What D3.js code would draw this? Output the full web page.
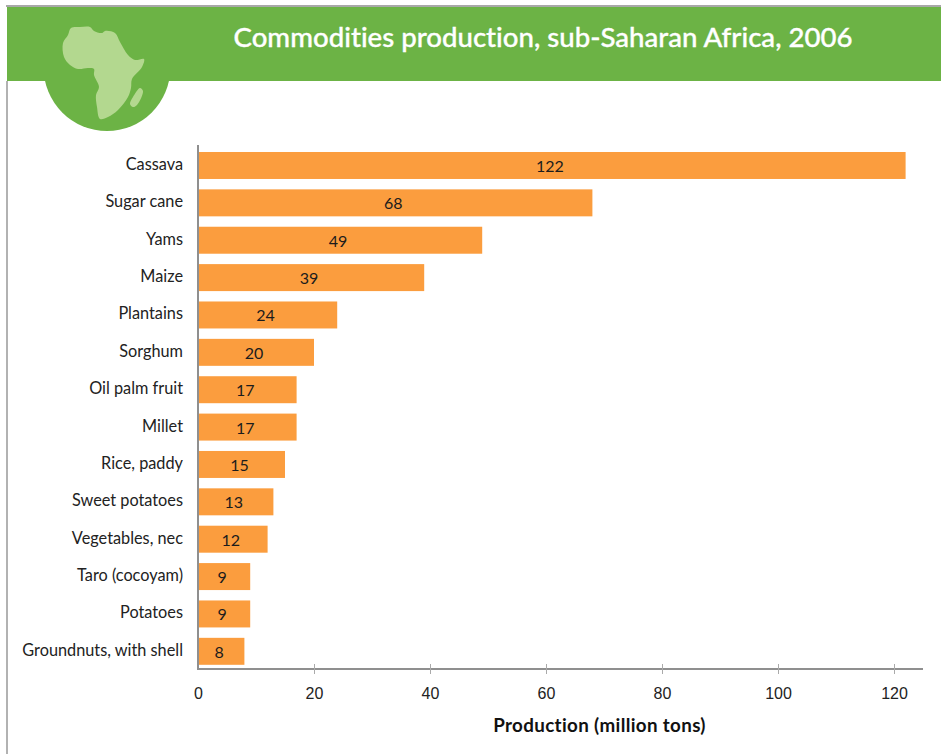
<!DOCTYPE html>
<html>
<head>
<meta charset="utf-8">
<script src="https://cdn.jsdelivr.net/npm/d3@7"></script>
<style>
  html, body { margin: 0; padding: 0; background: #fff; }
  svg { display: block; }
  text { font-variant-ligatures: none; }
</style>
</head>
<body>
<script>
const commodities = ["Cassava","Sugar cane","Yams","Maize","Plantains","Sorghum","Oil palm fruit","Millet","Rice, paddy","Sweet potatoes","Vegetables, nec","Taro (cocoyam)","Potatoes","Groundnuts, with shell"];
const production = [122,68,49,39,24,20,17,17,15,13,12,9,9,8];
const xTicks = [0,20,40,60,80,100,120];
const chartTitle = "Commodities production, sub-Saharan Africa, 2006";
const axisTitle = "Production (million tons)";

const width = 941, height = 754;
const green = "#6cb345", leaf = "#b3d88f", orange = "#fb9d3e", rule = "#8f8f8f";
const labelFont = "Lato, 'Open Sans', sans-serif";

const svg = d3.select("body").append("svg").attr("width", width).attr("height", height);

// Round badge, then the banner and page frame over it
svg.append("circle").attr("cx", 107).attr("cy", 67.6).attr("r", 63.4).attr("fill", green);
svg.append("rect").attr("x", 0).attr("y", 0).attr("width", width).attr("height", 5).attr("fill", "#fff");
svg.append("rect").attr("x", 7).attr("y", 7).attr("width", width - 7).attr("height", 74).attr("fill", green);
svg.append("rect").attr("x", 6).attr("y", 5).attr("width", width - 6).attr("height", 2).attr("fill", "#a8a8a8");
svg.append("rect").attr("x", 6).attr("y", 81).attr("width", 2).attr("height", height - 81).attr("fill", "#b2b2b2");

// Continent outline for the badge
const smooth = d3.line().curve(d3.curveCatmullRomClosed.alpha(0.5));
const mainland = [[71,28],[80,27],[90,27],[94,31],[102,33],[105,31],[115,33],[120,42],[128,55],[135,60],[144,59],[142,67],[132,79],[131,88],[128,97],[118,110],[108,117],[100,119],[97,107],[96,95],[99,87],[94,75],[94,69],[88,68],[78,69],[70,65],[64,57],[63,43],[68,35]];
const island = [[140,88],[143,91],[137,105],[133,107],[130,104],[133,97]];
svg.append("path").attr("d", smooth(mainland)).attr("fill", leaf);
svg.append("path").attr("d", smooth(island)).attr("fill", leaf);

svg.append("text").attr("x", 543).attr("y", 46.5).attr("text-anchor", "middle")
  .attr("font-family", labelFont).attr("font-weight", 500).attr("font-size", 27.6)
  .attr("fill", "#fff").attr("stroke", "#fff").attr("stroke-width", 0.35)
  .text(chartTitle);

// Scales
const x = d3.scaleLinear().domain([0, 125]).range([198, 923]);
const y = d3.scaleBand().domain(commodities).range([146.8, 670]).paddingInner(0.278).paddingOuter(0.139);

// Bars and their value labels
svg.append("g").selectAll("rect").data(commodities).join("rect")
  .attr("x", x(0)).attr("y", d => y(d))
  .attr("width", (d, i) => x(production[i]) - x(0)).attr("height", y.bandwidth())
  .attr("fill", orange);

svg.append("g").selectAll("text").data(commodities).join("text")
  .attr("x", (d, i) => (x(0) + x(production[i])) / 2 - 2)
  .attr("y", d => y(d) + y.bandwidth() / 2 + 6.5)
  .attr("text-anchor", "middle").attr("font-family", labelFont).attr("font-size", 16).attr("fill", "#1c1c1c")
  .text((d, i) => production[i]);

// Category labels
svg.append("g").selectAll("text").data(commodities).join("text")
  .attr("x", 183).attr("y", d => y(d) + y.bandwidth() / 2 + 4.5)
  .attr("text-anchor", "end").attr("font-family", labelFont).attr("font-size", 16.3).attr("fill", "#222")
  .text(d => d);

// Axes
svg.append("line").attr("x1", 198).attr("x2", 198).attr("y1", 145).attr("y2", 669.5).attr("stroke", rule).attr("stroke-width", 2);

const xAxis = svg.append("g").attr("transform", "translate(0,669)")
  .call(d3.axisBottom(x).tickValues(xTicks).tickSize(5).tickPadding(14));
xAxis.select(".domain").attr("d", "M197,0H923").attr("stroke", rule).attr("stroke-width", 2);
xAxis.selectAll(".tick line").attr("y1", -5).attr("y2", 5).attr("stroke", "#aaa");
xAxis.selectAll(".tick").filter(d => d === 0).select("line").remove();
xAxis.selectAll(".tick text").attr("font-family", "'Liberation Sans', Arial, sans-serif").attr("font-size", 16).attr("fill", "#222");

svg.append("text").attr("x", 599.5).attr("y", 732).attr("text-anchor", "middle")
  .attr("font-family", labelFont).attr("font-weight", 700).attr("font-size", 18.8).attr("letter-spacing", 0.35).attr("fill", "#111")
  .text(axisTitle);
</script>
</body>
</html>
